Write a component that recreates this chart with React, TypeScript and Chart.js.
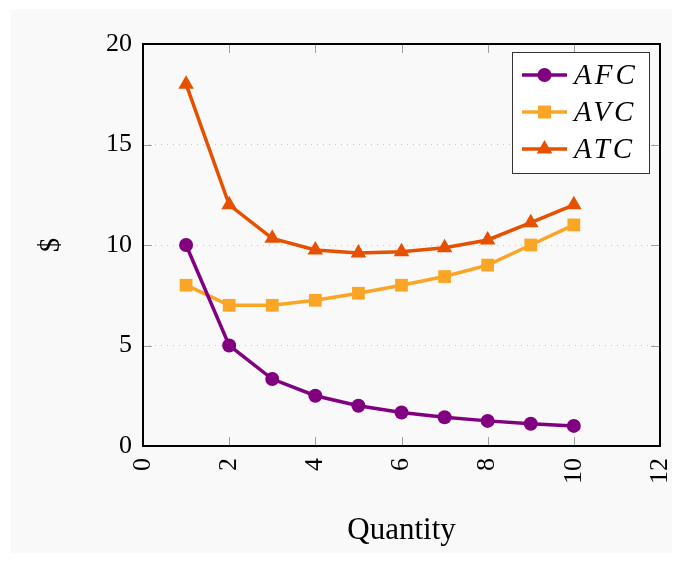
import React, { useEffect, useRef } from "react";
import { Chart, registerables } from "chart.js";

Chart.register(...registerables);

const quantity = [1, 2, 3, 4, 5, 6, 7, 8, 9, 10];
const afc = [10, 5, 3.33, 2.5, 2, 1.67, 1.43, 1.25, 1.11, 1];
const avc = [8, 7, 7, 7.25, 7.6, 8, 8.43, 9, 10, 11];
const atc = [18, 12, 10.33, 9.75, 9.6, 9.67, 9.86, 10.25, 11.11, 12];
const seriesLabels = ["AFC", "AVC", "ATC"];
const seriesColors = ["#800080", "#fba526", "#e65100"];
const seriesPoints = ["circle", "rect", "triangle"];
const pointRadii = [7, 9, 9];
const xTicks = [0, 2, 4, 6, 8, 10, 12];
const yTicks = [0, 5, 10, 15, 20];

const FONT = "'Liberation Serif', 'Times New Roman', serif";

const framePlugin = {
  id: "frame",
  beforeDatasetsDraw(chart: any) {
    const { ctx, chartArea: a, scales } = chart;
    ctx.save();
    ctx.strokeStyle = "#a0a0a0";
    ctx.lineWidth = 1;
    const tl = 9;
    xTicks.forEach((v) => {
      const x = Math.round(scales.x.getPixelForValue(v)) + 0.5;
      ctx.beginPath();
      ctx.moveTo(x, a.bottom);
      ctx.lineTo(x, a.bottom - tl);
      ctx.moveTo(x, a.top);
      ctx.lineTo(x, a.top + tl);
      ctx.stroke();
    });
    yTicks.forEach((v) => {
      const y = Math.round(scales.y.getPixelForValue(v)) + 0.5;
      ctx.beginPath();
      ctx.moveTo(a.left, y);
      ctx.lineTo(a.left + tl, y);
      ctx.moveTo(a.right, y);
      ctx.lineTo(a.right - tl, y);
      ctx.stroke();
    });
    ctx.strokeStyle = "#000";
    ctx.lineWidth = 2;
    ctx.strokeRect(a.left, a.top, a.right - a.left, a.bottom - a.top);
    ctx.restore();
  },
  afterDraw(chart: any) {
    const { ctx, chartArea: a } = chart;
    const w = 137;
    const h = 121;
    const bx = a.right - 11 - w;
    const by = a.top + 8;
    ctx.save();
    ctx.fillStyle = "#ffffff";
    ctx.fillRect(bx, by, w, h);
    ctx.strokeStyle = "#333";
    ctx.lineWidth = 1;
    ctx.strokeRect(bx + 0.5, by + 0.5, w, h);
    chart.data.datasets.forEach((ds: any, i: number) => {
      const cy = by + 23 + i * 37;
      const x0 = bx + 10;
      const x1 = bx + 55;
      ctx.strokeStyle = ds.borderColor;
      ctx.lineWidth = 3.5;
      ctx.beginPath();
      ctx.moveTo(x0, cy);
      ctx.lineTo(x1, cy);
      ctx.stroke();
      ctx.fillStyle = ds.borderColor;
      ctx.strokeStyle = ds.borderColor;
      ctx.lineWidth = 1;
      const cx = (x0 + x1) / 2;
      if (ds.pointStyle === "circle") {
        ctx.beginPath();
        ctx.arc(cx, cy, 7, 0, Math.PI * 2);
        ctx.fill();
      } else if (ds.pointStyle === "rect") {
        ctx.fillRect(cx - 6.5, cy - 6.5, 13, 13);
      } else {
        ctx.beginPath();
        ctx.moveTo(cx, cy - 9);
        ctx.lineTo(cx + 7.8, cy + 4.5);
        ctx.lineTo(cx - 7.8, cy + 4.5);
        ctx.closePath();
        ctx.fill();
      }
      ctx.fillStyle = "#000";
      ctx.font = "italic 29px " + FONT;
      (ctx as any).letterSpacing = "3px";
      ctx.textBaseline = "middle";
      ctx.textAlign = "left";
      ctx.fillText(ds.label, bx + 62, cy + 1);
      (ctx as any).letterSpacing = "0px";
    });
    ctx.restore();
  },
};

export default function App() {
  const ref = useRef<HTMLCanvasElement>(null);
  useEffect(() => {
    const data = [afc, avc, atc];
    const chart = new Chart(ref.current as HTMLCanvasElement, {
      type: "line",
      data: {
        datasets: seriesLabels.map((label, i) => ({
          label,
          data: quantity.map((q, j) => ({ x: q, y: data[i][j] })),
          borderColor: seriesColors[i],
          backgroundColor: seriesColors[i],
          pointBackgroundColor: seriesColors[i],
          pointBorderColor: seriesColors[i],
          pointStyle: seriesPoints[i] as any,
          pointRadius: pointRadii[i],
          pointBorderWidth: 0,
          borderWidth: 3.5,
          tension: 0,
        })),
      },
      options: {
        animation: false,
        responsive: false,
        devicePixelRatio: 1,
        layout: { padding: { top: 35, right: 12, left: 0, bottom: 0 } },
        plugins: { legend: { display: false }, tooltip: { enabled: false } },
        scales: {
          x: {
            type: "linear",
            min: 0,
            max: 12,
            afterBuildTicks: (s: any) => {
              s.ticks = xTicks.map((v) => ({ value: v }));
            },
            afterFit: (s: any) => {
              s.height = 107;
              s.paddingLeft = 0;
              s.paddingRight = 0;
            },
            ticks: {
              maxRotation: 90,
              minRotation: 90,
              padding: 12,
              color: "#000",
              font: { family: FONT, size: 26 },
            },
            grid: { display: false, drawTicks: false },
            border: { display: false },
            title: {
              display: true,
              text: "Quantity",
              color: "#000",
              font: { family: FONT, size: 31 },
              padding: { top: 0, bottom: 4 },
            },
          },
          y: {
            type: "linear",
            min: 0,
            max: 20,
            afterBuildTicks: (s: any) => {
              s.ticks = yTicks.map((v) => ({ value: v }));
            },
            afterFit: (s: any) => {
              s.width = 132;
            },
            ticks: {
              padding: 11,
              color: "#000",
              font: { family: FONT, size: 26 },
            },
            grid: { color: "#c8c8c8", drawTicks: false, lineWidth: 1 },
            border: { display: false, dash: [1, 5] },
            title: {
              display: true,
              text: "$",
              color: "#000",
              font: { family: FONT, size: 29 },
              padding: { top: 23, bottom: 0 },
            },
          },
        },
      },
      plugins: [framePlugin],
    });
    return () => chart.destroy();
  }, []);
  return (
    <div
      style={{
        marginLeft: 3,
        marginTop: 1,
        width: 661,
        height: 544,
        background: "#f9f9f9",
      }}
    >
      <canvas ref={ref} width={661} height={544} style={{ display: "block" }} />
    </div>
  );
}
